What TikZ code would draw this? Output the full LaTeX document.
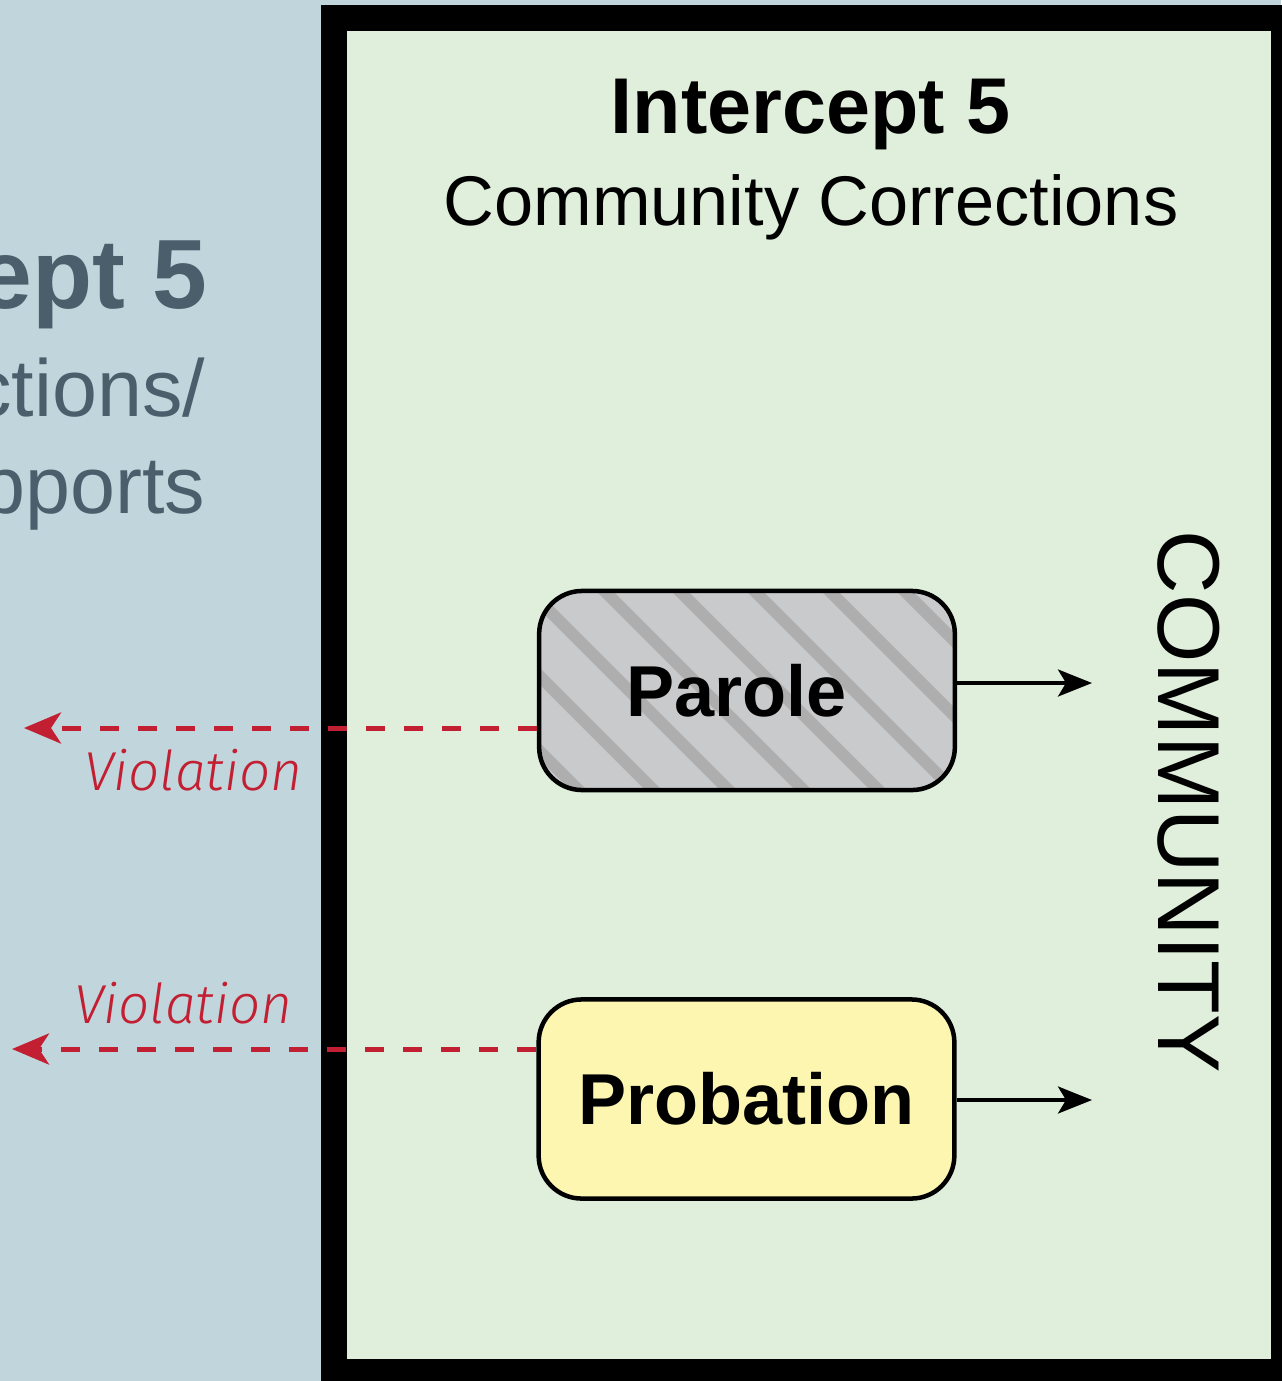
\documentclass[tikz,border=0pt]{standalone}
\usepackage{fontspec}
\setmainfont{Liberation Sans}
\usetikzlibrary{arrows.meta,calc}
\IfFontExistsTF{Fira Sans Light}
  {\newfontfamily\violfont{Fira Sans Light}[ItalicFont={Fira Sans Light Italic}]}
  {\newfontfamily\violfont{Liberation Sans}}
\definecolor{leftbg}{HTML}{C1D5DC}
\definecolor{innerbg}{HTML}{E0EFDC}
\definecolor{lefttext}{HTML}{4A5F6B}
\definecolor{violred}{HTML}{C31F32}
\definecolor{parolefill}{HTML}{C9CACC}
\definecolor{stripe}{HTML}{AEAEAE}
\definecolor{probfill}{HTML}{FCF6B1}
\begin{document}
\begin{tikzpicture}[x=0.01cm,y=-0.01cm,
  lefttxt/.style={text=lefttext, inner sep=0pt, anchor=base east},
  stagebox/.style={draw=black, line width=0.045cm, rounded corners=0.43cm,
    minimum width=4.155cm, minimum height=1.99cm, inner sep=0pt,
    font=\bfseries\fontsize{20.5}{24}\selectfont},
  violline/.style={draw=violred, line width=0.05cm, dash pattern=on 0.19cm off 0.19cm,
    -{Stealth[length=0.37cm, width=0.31cm, inset=0.1cm]}},
  violtxt/.style={text=violred, inner sep=0pt, anchor=base east,
    font=\violfont\itshape\fontsize{15.6}{19}\selectfont},
  outarrow/.style={draw=black, line width=0.035cm,
    -{Stealth[length=0.34cm, width=0.27cm, inset=0.08cm]}}]
\useasboundingbox (0,0) rectangle (1281,1381);
\fill[leftbg] (0,0) rectangle (1281,1381);
% left column text (cropped)
\node[lefttxt, font=\bfseries\fontsize{28}{34}\selectfont] (lt1) at (208,308) {Intercept 5};
\node[lefttxt, font=\fontsize{23}{28}\selectfont] (lt2) at (206,416) {Corrections/};
\node[lefttxt, font=\fontsize{23}{28}\selectfont] (lt3) at (206,513) {Supports};
% frame
\fill[black] (321,5) rectangle (1320,1420);
\fill[innerbg] (347,31) rectangle (1271,1359);
% titles
\node[inner sep=0pt, anchor=base, font=\bfseries\fontsize{22.5}{27}\selectfont] (title) at (811,133) {Intercept 5};
\node[inner sep=0pt, anchor=base, font=\fontsize{20}{24}\selectfont] (sub) at (811,225) {Community Corrections};
% boxes
\node[stagebox, fill=parolefill,
  path picture={\foreach \k in {-7,...,6}{
      \draw[stripe, line width=0.12cm] ($(path picture bounding box.center)+(-173+75*\k,-130)$) -- ++(260,260);}}]
  (parole) at (747,690.5) {\hspace*{-6pt}Parole};
\node[stagebox, fill=probfill] (probation) at (746.5,1099) {Probation};
% community
\node[rotate=-90, inner sep=0pt, font=\fontsize{25}{30}\selectfont] (comm) at (1189,802) {COMMUNITY};
% arrows
\coordinate (c1) at (1092,683);
\coordinate (c2) at (1092,1100);
\draw[outarrow] (parole.east |- c1) -- (c1);
\draw[outarrow] (probation.east |- c2) -- (c2);
\coordinate (v1) at (24,728);
\coordinate (v2) at (12,1049);
\draw[violline] (parole.west |- v1) -- (v1);
\draw[violline] (probation.west |- v2) -- (v2);
\node[violtxt] (vl1) at (303,790) {Violation};
\node[violtxt] (vl2) at (293,1023) {Violation};
\end{tikzpicture}
\end{document}
